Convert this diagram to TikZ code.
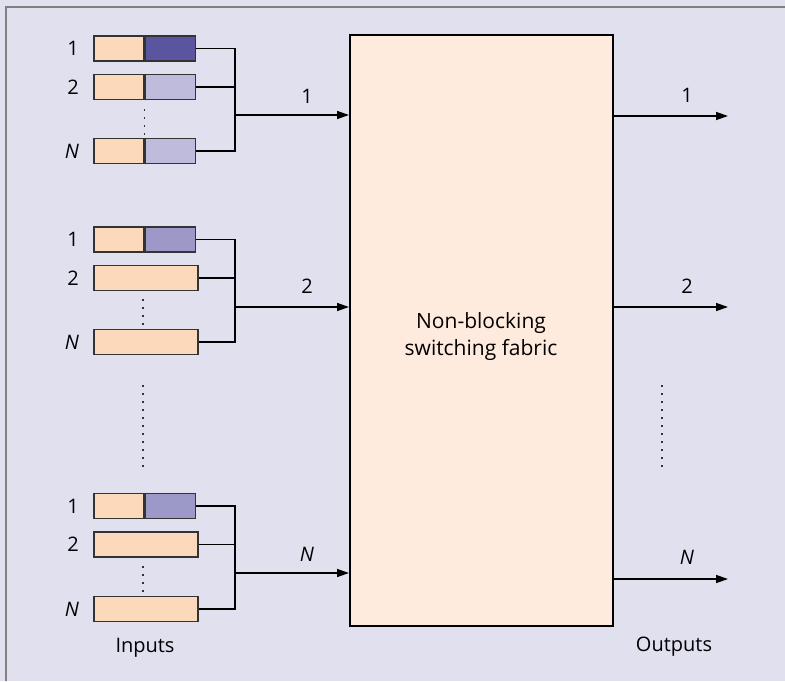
\documentclass[tikz,border=0pt]{standalone}
\usepackage{fontspec}
\setmainfont{Open Sans}
\usetikzlibrary{arrows.meta}
\definecolor{bgc}{HTML}{E1E0EE}
\definecolor{peach}{HTML}{FCD9BB}
\definecolor{fabc}{HTML}{FFEBDD}
\definecolor{dpurp}{HTML}{5B559F}
\definecolor{lpurp}{HTML}{BFBBDC}
\definecolor{mpurp}{HTML}{9C98C8}
\definecolor{edgec}{HTML}{333333}
\tikzset{
  qpart/.style={draw=edgec,line width=1.6pt,minimum height=25pt,inner sep=0pt,anchor=west},
  qshort/.style={qpart,minimum width=50pt},
  qlong/.style={qpart,minimum width=104pt,fill=peach},
  wire/.style={draw=black,line width=1.4pt},
  arr/.style={wire,-{Triangle[length=12pt,width=8pt]}},
  lbl/.style={font=\fontsize{20}{22}\selectfont,text=black,inner sep=0pt},
  dotline/.style={line width=1.6pt,dash pattern=on 2pt off 6pt,draw=edgec}
}
\begin{document}
\begin{tikzpicture}[x=1pt,y=-1pt]
\useasboundingbox (0,0) rectangle (785,681);
\fill[bgc] (0,0) rectangle (785,681);
\draw[gray,line width=2pt] (6,681) -- (6,7) -- (785,7);
% fabric
\node[draw=black,line width=1.7pt,fill=fabc,minimum width=263pt,minimum height=591pt,inner sep=0pt,anchor=north west] (fab) at (349,34) {};
\node[lbl,align=center,font=\fontsize{21}{27}\selectfont] (fabt) at (481,337) {Non-blocking\\switching fabric};
% group 1
\node[qshort,fill=peach] (a1l) at (93,48.5) {};
\node[qshort,fill=dpurp,anchor=west] (a1r) at (a1l.east) {};
\node[qshort,fill=peach] (a2l) at (93,87) {};
\node[qshort,fill=lpurp,anchor=west] (a2r) at (a2l.east) {};
\node[qshort,fill=peach] (anl) at (93,151) {};
\node[qshort,fill=lpurp,anchor=west] (anr) at (anl.east) {};
\node[lbl] (la1) at (73,48.5) {1};
\node[lbl] (la2) at (73,87) {2};
\node[lbl] (lan) at (72,151) {\itshape N};
\draw[dotline] (a2l.south east) ++(0,9) -- ([yshift=-3]anl.north east);
\coordinate (ja) at (235,115);
\draw[wire] (a1r.east) -| (ja);
\draw[wire] (a2r.east) -| (ja);
\draw[wire] (anr.east) -| (ja);
\draw[arr] (ja) -- (ja -| fab.west);
\node[lbl] (ia) at (307,96) {1};
% group 2
\node[qshort,fill=peach] (b1l) at (93,239.5) {};
\node[qshort,fill=mpurp,anchor=west] (b1r) at (b1l.east) {};
\node[qlong] (b2) at (93,278) {};
\node[qlong] (bn) at (93,342) {};
\node[lbl] (lb1) at (73,239.5) {1};
\node[lbl] (lb2) at (73,278) {2};
\node[lbl] (lbn) at (72,342) {\itshape N};
\draw[dotline] (143,299) -- (143,326);
\coordinate (jb) at (235,307);
\draw[wire] (b1r.east) -| (jb);
\draw[wire] (b2.east) -| (jb);
\draw[wire] (bn.east) -| (jb);
\draw[arr] (jb) -- (jb -| fab.west);
\node[lbl] (ib) at (307,286) {2};
% group 3
\node[qshort,fill=peach] (c1l) at (93,506) {};
\node[qshort,fill=mpurp,anchor=west] (c1r) at (c1l.east) {};
\node[qlong] (c2) at (93,544.5) {};
\node[qlong] (cn) at (93,609) {};
\node[lbl] (lc1) at (73,506) {1};
\node[lbl] (lc2) at (73,544.5) {2};
\node[lbl] (lcn) at (72,609) {\itshape N};
\draw[dotline] (143,566) -- (143,593);
\coordinate (jc) at (235,573);
\draw[wire] (c1r.east) -| (jc);
\draw[wire] (c2.east) -| (jc);
\draw[wire] (cn.east) -| (jc);
\draw[arr] (jc) -- (jc -| fab.west);
\node[lbl] (ic) at (307,554) {\itshape N};
% input dots between groups
\draw[dotline] (143,385) -- (143,468);
% outputs
\coordinate (o1) at (728,116);
\coordinate (o2) at (728,307);
\coordinate (on) at (728,579);
\draw[arr] (fab.east |- o1) -- (o1);
\draw[arr] (fab.east |- o2) -- (o2);
\draw[arr] (fab.east |- on) -- (on);
\node[lbl] (oa) at (687,95) {1};
\node[lbl] (ob) at (687,286) {2};
\node[lbl] (oc) at (687,557) {\itshape N};
\draw[dotline] (662,385) -- (662,468);
\node[lbl] (inp) at (145,648) {Inputs};
\node[lbl] (outp) at (674,647) {Outputs};
\end{tikzpicture}
\end{document}
